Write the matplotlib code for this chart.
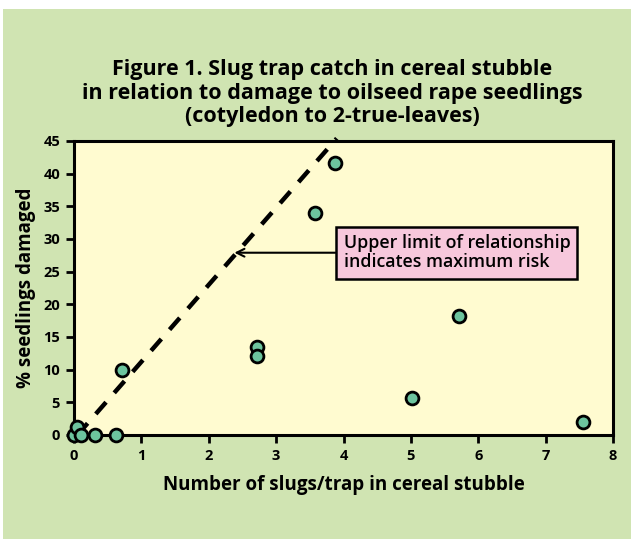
import matplotlib
matplotlib.use("Agg")
import matplotlib.pyplot as plt
from matplotlib.patches import Rectangle

# data
slugs = [0.0, 0.05, 0.11, 0.31, 0.62, 0.71, 2.71, 2.71, 3.58, 3.87, 5.02, 5.71, 7.55]
damage = [0.0, 1.3, 0.0, 0.0, 0.0, 10.0, 13.4, 12.1, 34.0, 41.6, 5.6, 18.2, 2.0]
limit_x = [0.05, 3.9]
limit_y = [0.0, 45.4]
xticks = list(range(0, 9))
yticks = list(range(0, 50, 5))

BG = "#D0E4B2"
PLOT_BG = "#FFFBD0"
DOT = "#6CC49E"
FONT = ["Open Sans", "DejaVu Sans"]

plt.rcParams["font.family"] = FONT

fig = plt.figure(figsize=(6.31, 5.39), dpi=100, facecolor="white")
fig.patches.append(Rectangle((3/631, 0), 1 - 3/631, 530/539, transform=fig.transFigure,
                             facecolor=BG, edgecolor="none", zorder=-10))

ax = fig.add_axes([74/631, 1 - 435/539, 539/631, 294/539])
ax.set_facecolor(PLOT_BG)
ax.set_xlim(0, 8)
ax.set_ylim(0, 45)

ax.plot(limit_x, limit_y, color="black", lw=3.2, ls=(0, (3.5, 2.8)),
        dash_capstyle="butt", clip_on=False, zorder=3)
ax.scatter(slugs, damage, s=85, facecolor=DOT, edgecolor="black", linewidth=2,
           clip_on=False, zorder=4)

for s in ax.spines.values():
    s.set_linewidth(2.2)
ax.set_xticks(xticks)
ax.set_yticks(yticks)
ax.tick_params(direction="out", length=6, width=2, labelsize=10.5, pad=4)
for lab in ax.get_xticklabels() + ax.get_yticklabels():
    lab.set_fontweight("bold")

ax.set_xlabel("Number of slugs/trap in cereal stubble", fontsize=13.5, fontweight="bold", labelpad=9)
ax.set_ylabel("% seedlings damaged", fontsize=13.5, fontweight="bold", labelpad=5)

fig.text(332/631, 1 - 93/539,
         "Figure 1. Slug trap catch in cereal stubble\n"
         "in relation to damage to oilseed rape seedlings\n"
         "(cotyledon to 2-true-leaves)",
         ha="center", va="center", fontsize=15.5, fontweight="bold", linespacing=1.15)

ax.annotate("Upper limit of relationship\nindicates maximum risk",
            xy=(2.38, 27.9), xytext=(4.0, 27.9),
            fontsize=12.8, fontweight="semibold", va="center", ha="left", linespacing=1.1,
            bbox=dict(boxstyle="square,pad=0.4", facecolor="#F7C8DC", edgecolor="black", lw=1.8),
            arrowprops=dict(arrowstyle="->", color="black", lw=1.5, mutation_scale=14,
                            shrinkA=0, shrinkB=0))

fig.savefig("out.png", dpi=100, facecolor=fig.get_facecolor())
